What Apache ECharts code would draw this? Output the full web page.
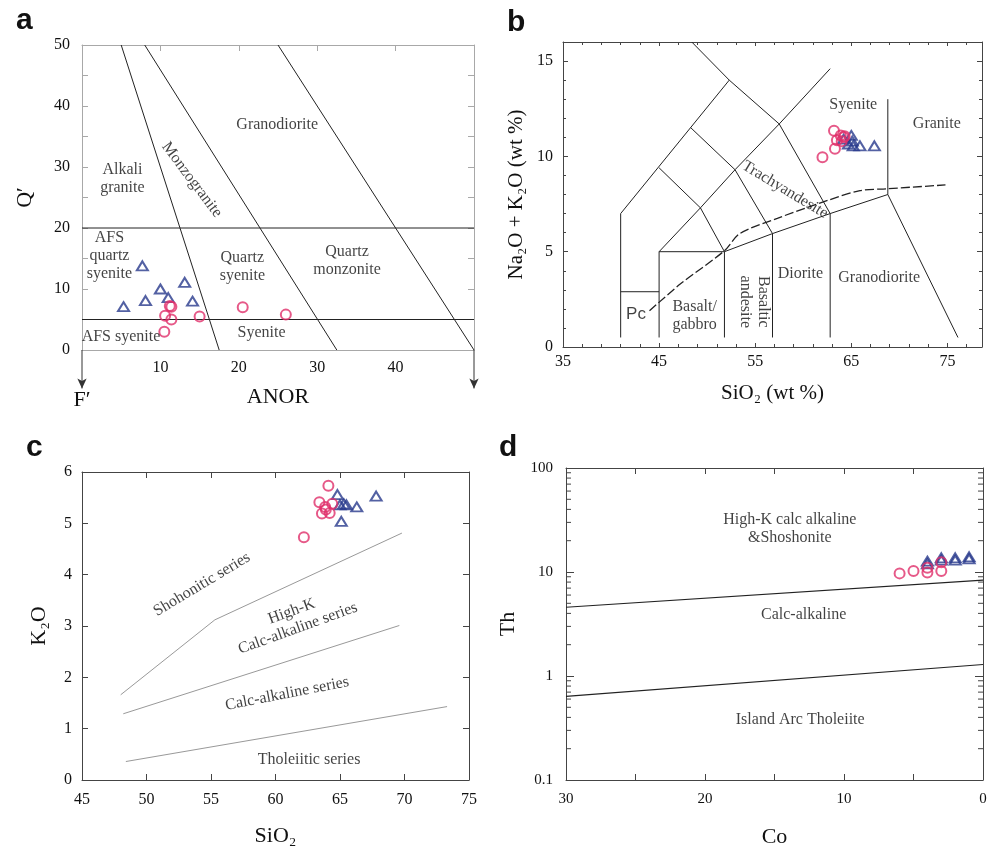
<!DOCTYPE html>
<html>
<head>
<meta charset="utf-8">
<script src="https://cdn.jsdelivr.net/npm/echarts@6/dist/echarts.min.js"></script>
<style>html,body{margin:0;background:#fff}#chart{width:998px;height:849px}</style>
</head>
<body>
<div id="chart"></div>
<script>
// ---- a : Q' - ANOR ----
var anorTri = [[5.3,7.1],[7.7,13.8],[8.1,8.1],[10.0,10.0],[11.0,8.6],[13.1,11.1],[14.1,8.0]];
var anorCir = [[11.2,7.2],[11.4,7.1],[10.6,5.6],[11.4,5.0],[15.0,5.5],[10.5,3.0],[20.5,7.0],[26.0,5.8]];
var anorLines = [
    [[5,50],[17.5,0]],
    [[8,50],[32.5,0]],
    [[25,50],[50,0]],
    [[0,20],[50,20]],
    [[0,5],[50,5]]
];
var anorLabels = [
    [24.9,36.9,'Granodiorite',0],
    [5.15,28.0,'Alkali\ngranite',0],
    [14.0,27.9,'Monzogranite',-53],
    [3.5,15.4,'AFS\nquartz\nsyenite',0],
    [20.45,13.7,'Quartz\nsyenite',0],
    [33.8,14.6,'Quartz\nmonzonite',0],
    [4.97,2.1,'AFS syenite',0],
    [22.9,2.84,'Syenite',0]
];

// ---- b : TAS ----
var tasTri = [[64.2,10.9],[65.0,11.1],[64.7,10.65],[65.2,10.55],[65.9,10.55],[67.4,10.55],[65.1,10.8]];
var tasCir = [[63.2,11.35],[63.9,11.1],[64.2,11.0],[63.5,10.85],[64.0,10.8],[63.3,10.4],[62.0,9.95],[64.3,11.05]];
var tasLines = [
    [[41,0.5],[41,7],[52.3,14]],
    [[48.4,16],[52.3,14],[57.5,11.7],[62.8,7],[62.8,0.5]],
    [[45,9.4],[49.3,7.3],[51.8,5]],
    [[48.3,11.5],[52.9,9.3],[56.8,5.95]],
    [[45,5],[49.3,7.3],[52.9,9.3],[57.5,11.7],[62.8,14.6]],
    [[51.8,5],[56.8,5.95],[62.8,7],[68.8,8],[76.1,0.5]],
    [[45,0.5],[45,5],[51.8,5],[51.8,0.5]],
    [[56.8,0.5],[56.8,5.95]],
    [[41,2.9],[45,2.9]],
    [[68.8,8],[68.8,13]]
];
var tasDashed = [[44,1.9],[47.2,3.3],[51.8,5.05],[53.4,5.95],[57.3,6.75],[62.6,7.7],[65.9,8.2],[68.7,8.3],[74.8,8.5]];
var tasLabels = [
    [65.2,12.7,'Syenite',0],
    [73.9,11.7,'Granite',0],
    [58.1,8.25,'Trachyandesite',-31],
    [59.7,3.86,'Diorite',0],
    [67.9,3.65,'Granodiorite',0],
    [48.7,1.63,'Basalt/\ngabbro',0],
    [54.9,2.37,'Basaltic\nandesite',-90]
];
var tasPc = [[42.6,1.7,'Pc',0]];

// ---- c : K2O - SiO2 ----
var kTri = [[64.8,5.56],[65.0,5.36],[65.3,5.38],[65.5,5.36],[66.3,5.32],[65.1,5.04],[67.8,5.53]];
var kCir = [[64.1,5.73],[63.4,5.41],[64.4,5.38],[63.85,5.32],[63.6,5.19],[64.2,5.2],[63.9,5.27],[62.2,4.73]];
var kLines = [
    [[48,1.66],[55.3,3.12],[69.8,4.81]],
    [[48.2,1.29],[69.6,3.01]],
    [[48.4,0.36],[73.3,1.43]]
];
var kLabels = [
    [54.3,3.81,'Shohonitic series',31],
    [61.5,3.12,'High-K\nCalc-alkaline series',20],
    [60.9,1.68,'Calc-alkaline series',11],
    [62.6,0.40,'Tholeiitic series',0]
];

// ---- d : Th - Co ----
var thTri = [[4.0,12.0],[4.0,12.7],[3.0,13.0],[3.0,13.7],[2.0,13.0],[2.0,13.7],[1.0,13.4],[1.0,14.0]];
var thCir = [[6.0,9.7],[5.0,10.2],[4.0,9.9],[4.0,11.0],[3.0,10.2],[3.0,12.4]];
var thLines = [
    [[30,4.58],[0,8.34]],
    [[30,0.637],[0,1.29]]
];
var thLabels = [
    [13.9,25.9,'High-K calc alkaline\n&Shoshonite',0],
    [12.9,3.87,'Calc-alkaline',0],
    [13.15,0.381,'Island Arc Tholeiite',0]
];
var thMinorTicks = [0.2,0.3,0.4,0.5,0.6,0.7,0.8,0.9,2,3,4,5,6,7,8,9,20,30,40,50,60,70,80,90];

var serif = 'Liberation Serif';
var ink = '#111';
var pink = '#e0306a';
var blue = '#283a8c';

function mkAxis(p) {
    return {
        type: p.type || 'value', gridIndex: p.grid, position: p.pos,
        min: p.min, max: p.max, interval: p.interval, inverse: !!p.inverse, logBase: p.logBase,
        name: p.name || '', nameLocation: 'middle', nameGap: p.nameGap || 0,
        nameTextStyle: {fontFamily: serif, fontSize: p.nameSize || 22, color: ink},
        axisLine: {show: true, onZero: false, lineStyle: {color: p.frame, width: 1}},
        axisTick: {show: p.tick !== false, inside: true, length: p.tickLen || 6, interval: 0, lineStyle: {color: p.frame, width: 1}},
        minorTick: {show: !!p.minor, splitNumber: p.minor || 5, length: 3, lineStyle: {color: p.frame}},
        splitLine: {show: false}, minorSplitLine: {show: false},
        axisLabel: {show: !!p.label, margin: p.margin || 8, fontFamily: serif, fontSize: p.labelSize || 16,
            color: ink, formatter: p.fmt, showMaxLabel: p.showMax, showMinLabel: p.showMin}
    };
}

function lines(idx, arr, style) {
    return arr.map(function (pts) {
        return {type: 'line', xAxisIndex: idx * 2, yAxisIndex: idx * 2, data: pts, symbol: 'none',
            silent: true, animation: false, z: 2, lineStyle: style};
    });
}
function points(idx, pts, kind) {
    var tri = kind === 'tri';
    return {type: 'scatter', xAxisIndex: idx * 2, yAxisIndex: idx * 2, data: pts, silent: true, z: 4,
        symbol: tri ? 'triangle' : 'circle', symbolSize: tri ? [11, 9] : 10,
        itemStyle: {color: 'transparent', borderColor: tri ? blue : pink, borderWidth: 2}};
}
function labels(idx, arr, font, size) {
    return {type: 'scatter', xAxisIndex: idx * 2, yAxisIndex: idx * 2, symbolSize: 0, silent: true, z: 5,
        data: arr.map(function (l) { return {value: [l[0], l[1]], name: l[2], label: {rotate: l[3]}}; }),
        label: {show: true, position: 'inside', formatter: '{b}', color: ink,
            fontFamily: font || serif, fontSize: size || 16, lineHeight: 18}};
}

var chart = echarts.init(document.getElementById('chart'));
var grayA = '#a8a8a8', dark = '#444';
var ten = function (v) { return (v % 10 === 0) ? v : ''; };
var series = [];
series = series.concat(lines(0, anorLines, {color: '#222', width: 1}));
series.push({
    type: 'line', xAxisIndex: 0, yAxisIndex: 0, clip: false, silent: true, symbol: 'none',
    lineStyle: {color: '#333', width: 1},
    data: [{value: [0, 0]}, {value: [0, -6.3], symbol: 'arrow', symbolSize: [7, 10], symbolRotate: 180,
        itemStyle: {color: '#333'},
        label: {show: true, position: 'bottom', distance: 1, formatter: 'F\u2032', fontFamily: serif, fontSize: 22, color: ink}}]
});
series.push({
    type: 'line', xAxisIndex: 0, yAxisIndex: 0, clip: false, silent: true, symbol: 'none',
    lineStyle: {color: '#333', width: 1},
    data: [{value: [50, 0]}, {value: [50, -6.3], symbol: 'arrow', symbolSize: [7, 10], symbolRotate: 180, itemStyle: {color: '#333'}}]
});
series.push(points(0, anorTri, 'tri'), points(0, anorCir, 'cir'), labels(0, anorLabels));

series = series.concat(lines(1, tasLines, {color: '#222', width: 1}));
series.push({type: 'line', xAxisIndex: 2, yAxisIndex: 2, data: tasDashed, symbol: 'none', silent: true, z: 2,
    smooth: 0.3, lineStyle: {color: '#222', width: 1.3, type: [9, 3]}});
series.push(points(1, tasTri, 'tri'), points(1, tasCir, 'cir'), labels(1, tasLabels),
    labels(1, tasPc, 'Liberation Sans', 17));

series = series.concat(lines(2, kLines, {color: '#999', width: 1}));
series.push(points(2, kTri, 'tri'), points(2, kCir, 'cir'), labels(2, kLabels));

series = series.concat(lines(3, thLines, {color: '#222', width: 1.2}));
series.push(points(3, thTri, 'tri'), points(3, thCir, 'cir'), labels(3, thLabels));
series.push({
    type: 'custom', xAxisIndex: 6, yAxisIndex: 6, silent: true, clip: false, z: 3,
    data: thMinorTicks.map(function (v) { return [0, v]; }),
    renderItem: function (params, api) {
        var v = api.value(1);
        var l = api.coord([30, v]), r = api.coord([0, v]);
        var st = {stroke: dark, lineWidth: 1};
        return {type: 'group', children: [
            {type: 'line', shape: {x1: l[0], y1: l[1], x2: l[0] + 5, y2: l[1]}, style: st},
            {type: 'line', shape: {x1: r[0] - 5, y1: r[1], x2: r[0], y2: r[1]}, style: st}
        ]};
    }
});

var titleStyle = {fontFamily: 'Liberation Sans', fontWeight: 'bold', fontSize: 30, color: '#111'};
var option = {
    animation: false,
    backgroundColor: '#fff',
    title: [
        {text: 'a', left: 16, top: 6, padding: 0, textStyle: titleStyle},
        {text: 'b', left: 507, top: 8, padding: 0, textStyle: titleStyle},
        {text: 'c', left: 26, top: 433, padding: 0, textStyle: titleStyle},
        {text: 'd', left: 499, top: 433, padding: 0, textStyle: titleStyle}
    ],
    grid: [
        {left: 82, top: 45, width: 392, height: 305},
        {left: 563, top: 42, width: 419, height: 305},
        {left: 82, top: 472, width: 387, height: 308},
        {left: 566, top: 468, width: 417, height: 315}
    ],
    xAxis: [
        mkAxis({grid: 0, pos: 'bottom', min: 0, max: 50, interval: 10, frame: grayA, tick: false, label: true,
            fmt: function (v) { return (v === 0 || v === 50) ? '' : v; }, margin: 10,
            name: 'ANOR', nameGap: 36, nameSize: 22}),
        mkAxis({grid: 0, pos: 'top', min: 0, max: 50, interval: 10, frame: grayA}),
        mkAxis({grid: 1, pos: 'bottom', min: 35, max: 78.6, interval: 10, frame: dark, minor: 5, tickLen: 4, label: true,
            showMax: false, margin: 7, name: 'SiO\u2082 (wt %)', nameGap: 36, nameSize: 21}),
        mkAxis({grid: 1, pos: 'top', min: 35, max: 78.6, interval: 10, frame: dark, minor: 5, tickLen: 4}),
        mkAxis({grid: 2, pos: 'bottom', min: 45, max: 75, interval: 5, frame: dark, label: true, margin: 12,
            name: 'SiO\u2082', nameGap: 45, nameSize: 22}),
        mkAxis({grid: 2, pos: 'top', min: 45, max: 75, interval: 5, frame: dark}),
        mkAxis({grid: 3, pos: 'bottom', min: 0, max: 30, interval: 5, inverse: true, frame: dark, label: true,
            fmt: ten, margin: 12, labelSize: 15, name: 'Co', nameGap: 46, nameSize: 22}),
        mkAxis({grid: 3, pos: 'top', min: 0, max: 30, interval: 5, inverse: true, frame: dark})
    ],
    yAxis: [
        mkAxis({grid: 0, pos: 'left', min: 0, max: 50, interval: 5, frame: grayA, label: true, fmt: ten, margin: 12,
            name: 'Q\u2032', nameGap: 46, nameSize: 22}),
        mkAxis({grid: 0, pos: 'right', min: 0, max: 50, interval: 5, frame: grayA}),
        mkAxis({grid: 1, pos: 'left', min: 0, max: 16, interval: 5, frame: dark, minor: 5, tickLen: 5, label: true,
            showMax: false, margin: 10, name: 'Na\u2082O + K\u2082O (wt %)', nameGap: 36, nameSize: 21}),
        mkAxis({grid: 1, pos: 'right', min: 0, max: 16, interval: 5, frame: dark, minor: 5, tickLen: 5}),
        mkAxis({grid: 2, pos: 'left', min: 0, max: 6, interval: 1, frame: dark, label: true, margin: 10,
            name: 'K\u2082O', nameGap: 32, nameSize: 22}),
        mkAxis({grid: 2, pos: 'right', min: 0, max: 6, interval: 1, frame: dark}),
        mkAxis({grid: 3, pos: 'left', type: 'log', logBase: 10, min: 0.1, max: 100, frame: dark, tickLen: 8,
            label: true, margin: 13, labelSize: 15, name: 'Th', nameGap: 47, nameSize: 22}),
        mkAxis({grid: 3, pos: 'right', type: 'log', logBase: 10, min: 0.1, max: 100, frame: dark, tickLen: 8})
    ],
    series: series
};
chart.setOption(option);
</script>
</body>
</html>
